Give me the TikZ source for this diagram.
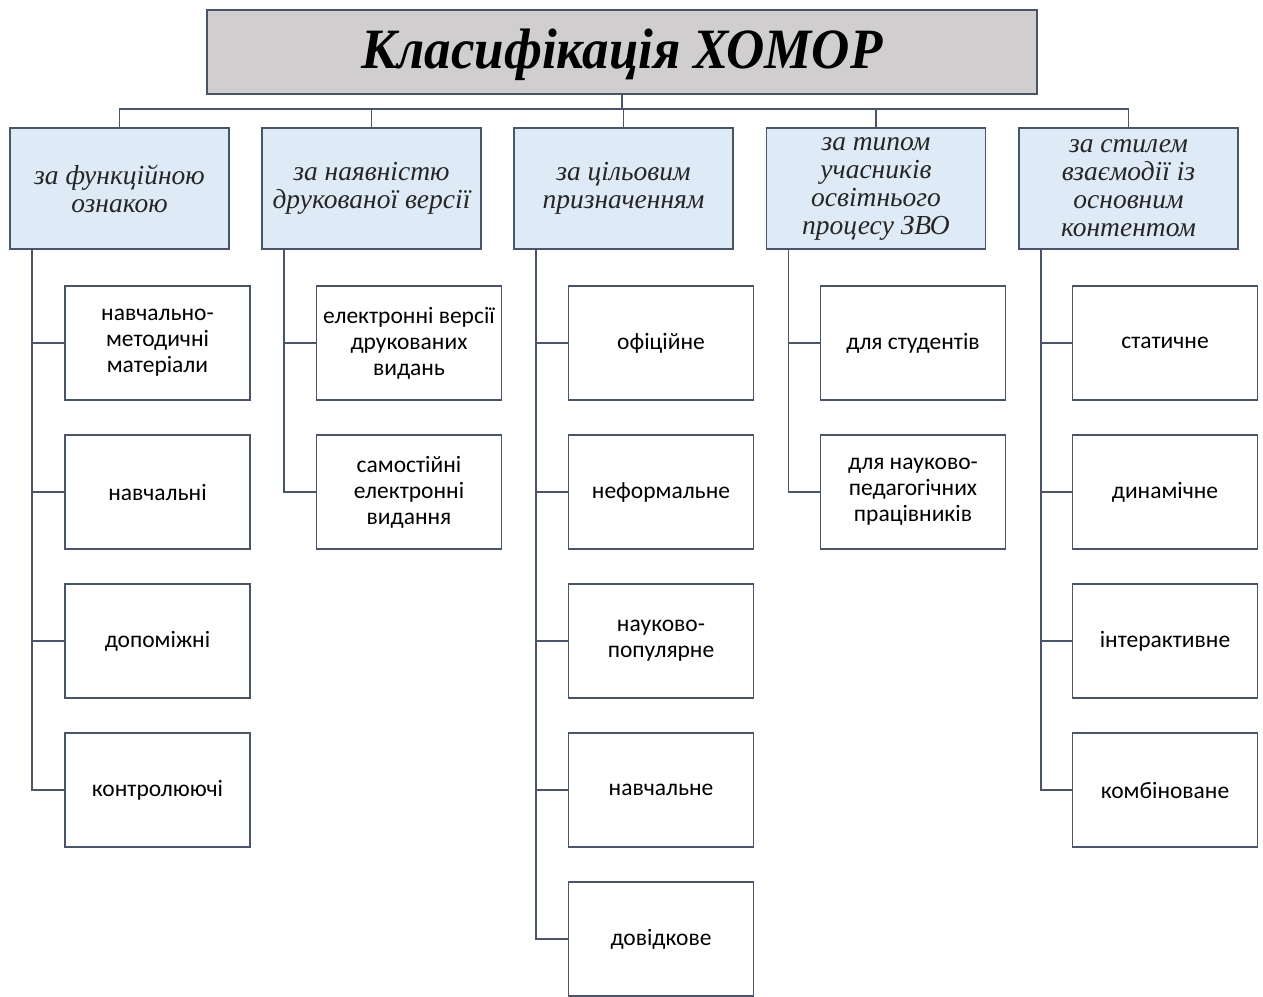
\documentclass[tikz,border=0pt]{standalone}
\usepackage{fontspec}
\setmainfont{Liberation Serif}
\newfontfamily\leaffont{Carlito}
\newfontfamily\catfont{Liberation Serif}
\usetikzlibrary{calc}
\definecolor{linec}{HTML}{4A5568}
\definecolor{titlefill}{HTML}{D0CECE}
\definecolor{catfill}{HTML}{DEEAF6}
\definecolor{cattext}{HTML}{262626}
\tikzset{
  box/.style={draw=linec, line width=1.6pt, inner sep=0pt, outer sep=0pt, align=center},
  titlebox/.style={box, fill=titlefill, minimum width=830pt, minimum height=84pt,
    font=\fontsize{57}{60}\selectfont\bfseries\itshape},
  catbox/.style={box, fill=catfill, minimum width=219pt, minimum height=121pt, text=cattext,
    font=\fontsize{27.5}{28}\selectfont\catfont\itshape},
  leafbox/.style={box, fill=white, minimum width=185pt, minimum height=114pt,
    font=\fontsize{23.5}{26}\selectfont\leaffont},
  conn/.style={draw=linec, line width=1.6pt}
}
\begin{document}
\begin{tikzpicture}[x=1pt,y=-1pt]
\clip (0,0) rectangle (1263,996);
\fill[white] (0,0) rectangle (1263,996);

\node[titlebox] (title) at (622,52) {\raisebox{-3pt}[\height][\depth]{\scalebox{0.93}[1]{Класифікація ХОМОР}}};

\node[catbox] (c1) at (119.5,188.5) {за функційною\\ознакою};
\node[catbox] (c2) at (371.5,188.5) {за наявністю\\друкованої версії};
\node[catbox] (c3) at (623.5,188.5) {за цільовим\\призначенням};
\node[catbox] (c4) at (876,188.5) {за типом\\учасників\\освітнього\\процесу ЗВО};
\node[catbox] (c5) at (1128.5,188.5) {за стилем\\взаємодії із\\основним\\контентом};

\coordinate (bus) at (0,109);
\draw[conn] (title.south) -- (title.south |- bus);
\draw[conn] (c1.north) -- (c1.north |- bus) -- (c5.north |- bus) -- (c5.north);
\draw[conn] (c2.north) -- (c2.north |- bus);
\draw[conn] (c3.north) -- (c3.north |- bus);
\draw[conn] (c4.north) -- (c4.north |- bus);

% column 1
\node[leafbox] (l11) at (157.5,343) {навчально-\\методичні\\матеріали};
\node[leafbox] (l12) at (157.5,492) {навчальні};
\node[leafbox] (l13) at (157.5,641) {допоміжні};
\node[leafbox] (l14) at (157.5,790) {контролюючі};
% column 2
\node[leafbox] (l21) at (409,343) {електронні версії\\друкованих\\видань};
\node[leafbox] (l22) at (409,492) {самостійні\\електронні\\видання};
% column 3
\node[leafbox] (l31) at (661,343) {офіційне};
\node[leafbox] (l32) at (661,492) {неформальне};
\node[leafbox] (l33) at (661,641) {науково-\\популярне};
\node[leafbox] (l34) at (661,790) {навчальне};
\node[leafbox] (l35) at (661,939) {довідкове};
% column 4
\node[leafbox] (l41) at (913,343) {для студентів};
\node[leafbox] (l42) at (913,492) {для науково-\\педагогічних\\працівників};
% column 5
\node[leafbox] (l51) at (1165,343) {статичне};
\node[leafbox] (l52) at (1165,492) {динамічне};
\node[leafbox] (l53) at (1165,641) {інтерактивне};
\node[leafbox] (l54) at (1165,790) {комбіноване};

\coordinate (s1) at ($(c1.south west)+(22,0)$);
\coordinate (s2) at ($(c2.south west)+(22,0)$);
\coordinate (s3) at ($(c3.south west)+(22,0)$);
\coordinate (s4) at ($(c4.south west)+(22,0)$);
\coordinate (s5) at ($(c5.south west)+(22,0)$);

\foreach \l in {l11,l12,l13,l14} \draw[conn] (s1) |- (\l.west);
\foreach \l in {l21,l22} \draw[conn] (s2) |- (\l.west);
\foreach \l in {l31,l32,l33,l34,l35} \draw[conn] (s3) |- (\l.west);
\foreach \l in {l41,l42} \draw[conn] (s4) |- (\l.west);
\foreach \l in {l51,l52,l53,l54} \draw[conn] (s5) |- (\l.west);
\end{tikzpicture}
\end{document}
